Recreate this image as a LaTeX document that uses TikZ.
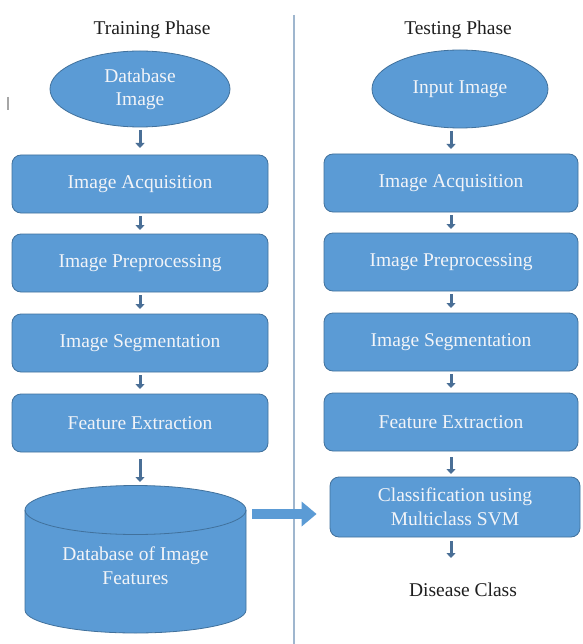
\documentclass[tikz,border=0pt]{standalone}
\usepackage{fontspec}
\setmainfont{Liberation Serif}
\usetikzlibrary{arrows.meta,shapes.geometric,calc}
\definecolor{boxfill}{HTML}{5B9BD5}
\definecolor{boxline}{HTML}{41719C}
\definecolor{arrowc}{HTML}{4A6F96}
\definecolor{divc}{HTML}{9FB6CE}
\definecolor{txt}{HTML}{F2F4F8}
\tikzset{
  base/.style={fill=boxfill,draw=boxline,line width=0.8pt,text=txt,font=\fontsize{19.5}{24}\selectfont,align=center,inner sep=0pt},
  procbox/.style={base,rectangle,rounded corners=9pt,minimum width=256pt,minimum height=58pt},
  startell/.style={base,ellipse,minimum width=180pt,minimum height=76pt},
  title/.style={font=\fontsize{19.5}{23}\selectfont,text=black!88},
  flow/.style={draw=arrowc,line width=3pt,-{Triangle[length=5pt,width=9pt]}},
  bigarrow/.style={draw=boxfill,line width=10pt,-{Triangle[length=15pt,width=24pt]}}
}
\begin{document}
\begin{tikzpicture}[x=1pt,y=-1pt]
\useasboundingbox (0,0) rectangle (582,644);
\fill[white] (0,0) rectangle (582,644);
% divider
\draw[divc,line width=1.2pt] (294,15) -- (294,644);
% stray mark
\draw[gray!70,line width=1.4pt] (8,97) -- (8,110);
% titles
\node[title] (t1) at (152,30) {Training Phase};
\node[title] (t2) at (458,30) {Testing Phase};
% left column
\node[startell] (dbimg) at (140,89) {Database\\[-1pt]Image};
\node[procbox] (la) at (140,184) {Image Acquisition};
\node[procbox] (lp) at (140,263) {Image Preprocessing};
\node[procbox] (ls) at (140,343) {Image Segmentation};
\node[procbox] (lf) at (140,423) {Feature Extraction};
% cylinder
\fill[boxfill,draw=boxline,line width=0.8pt] (25,510) -- (25,610) arc[start angle=180,end angle=0,x radius=110.5,y radius=23] -- (246,510) arc[start angle=0,end angle=-180,x radius=110.5,y radius=24.5] -- cycle;
\draw[boxline,line width=0.8pt] (25,510) arc[start angle=180,end angle=0,x radius=110.5,y radius=24.5];
\node[text=txt,font=\fontsize{19.5}{24}\selectfont,align=center,inner sep=0pt] (db) at (135.5,566) {Database of Image\\Features};
% right column
\node[startell,minimum width=176pt,minimum height=78pt] (inimg) at (460,89) {Input Image};
\node[procbox,minimum width=254pt] (ra) at (451,183) {Image Acquisition};
\node[procbox,minimum width=254pt] (rp) at (451,262) {Image Preprocessing};
\node[procbox,minimum width=254pt] (rs) at (451,342) {Image Segmentation};
\node[procbox,minimum width=254pt] (rf) at (451,422) {Feature Extraction};
\node[procbox,minimum width=250pt,minimum height=60pt] (rc) at (455,507) {Classification using\\Multiclass SVM};
\node[title] (dc) at (463,590) {Disease Class};
% flow arrows left
\draw[flow] (dbimg.south |- 0,130) -- (dbimg.south |- 0,148);
\draw[flow] (la.south |- 0,216) -- (la.south |- 0,230);
\draw[flow] (lp.south |- 0,295) -- (lp.south |- 0,309);
\draw[flow] (ls.south |- 0,375) -- (ls.south |- 0,389);
\draw[flow] (lf.south |- 0,459) -- (lf.south |- 0,482);
% flow arrows right
\draw[flow] (ra.north |- 0,131) -- (ra.north |- 0,149);
\draw[flow] (ra.south |- 0,215) -- (ra.south |- 0,229);
\draw[flow] (rp.south |- 0,294) -- (rp.south |- 0,308);
\draw[flow] (rs.south |- 0,374) -- (rs.south |- 0,388);
\draw[flow] (rf.south |- 0,457) -- (rf.south |- 0,474);
\draw[flow] (rf.south |- 0,541) -- (rf.south |- 0,558);
% big arrow
\coordinate (bs) at (252,514);
\draw[bigarrow] (bs) -- ($(rc.west |- bs)+(-13,0)$);
\end{tikzpicture}
\end{document}
